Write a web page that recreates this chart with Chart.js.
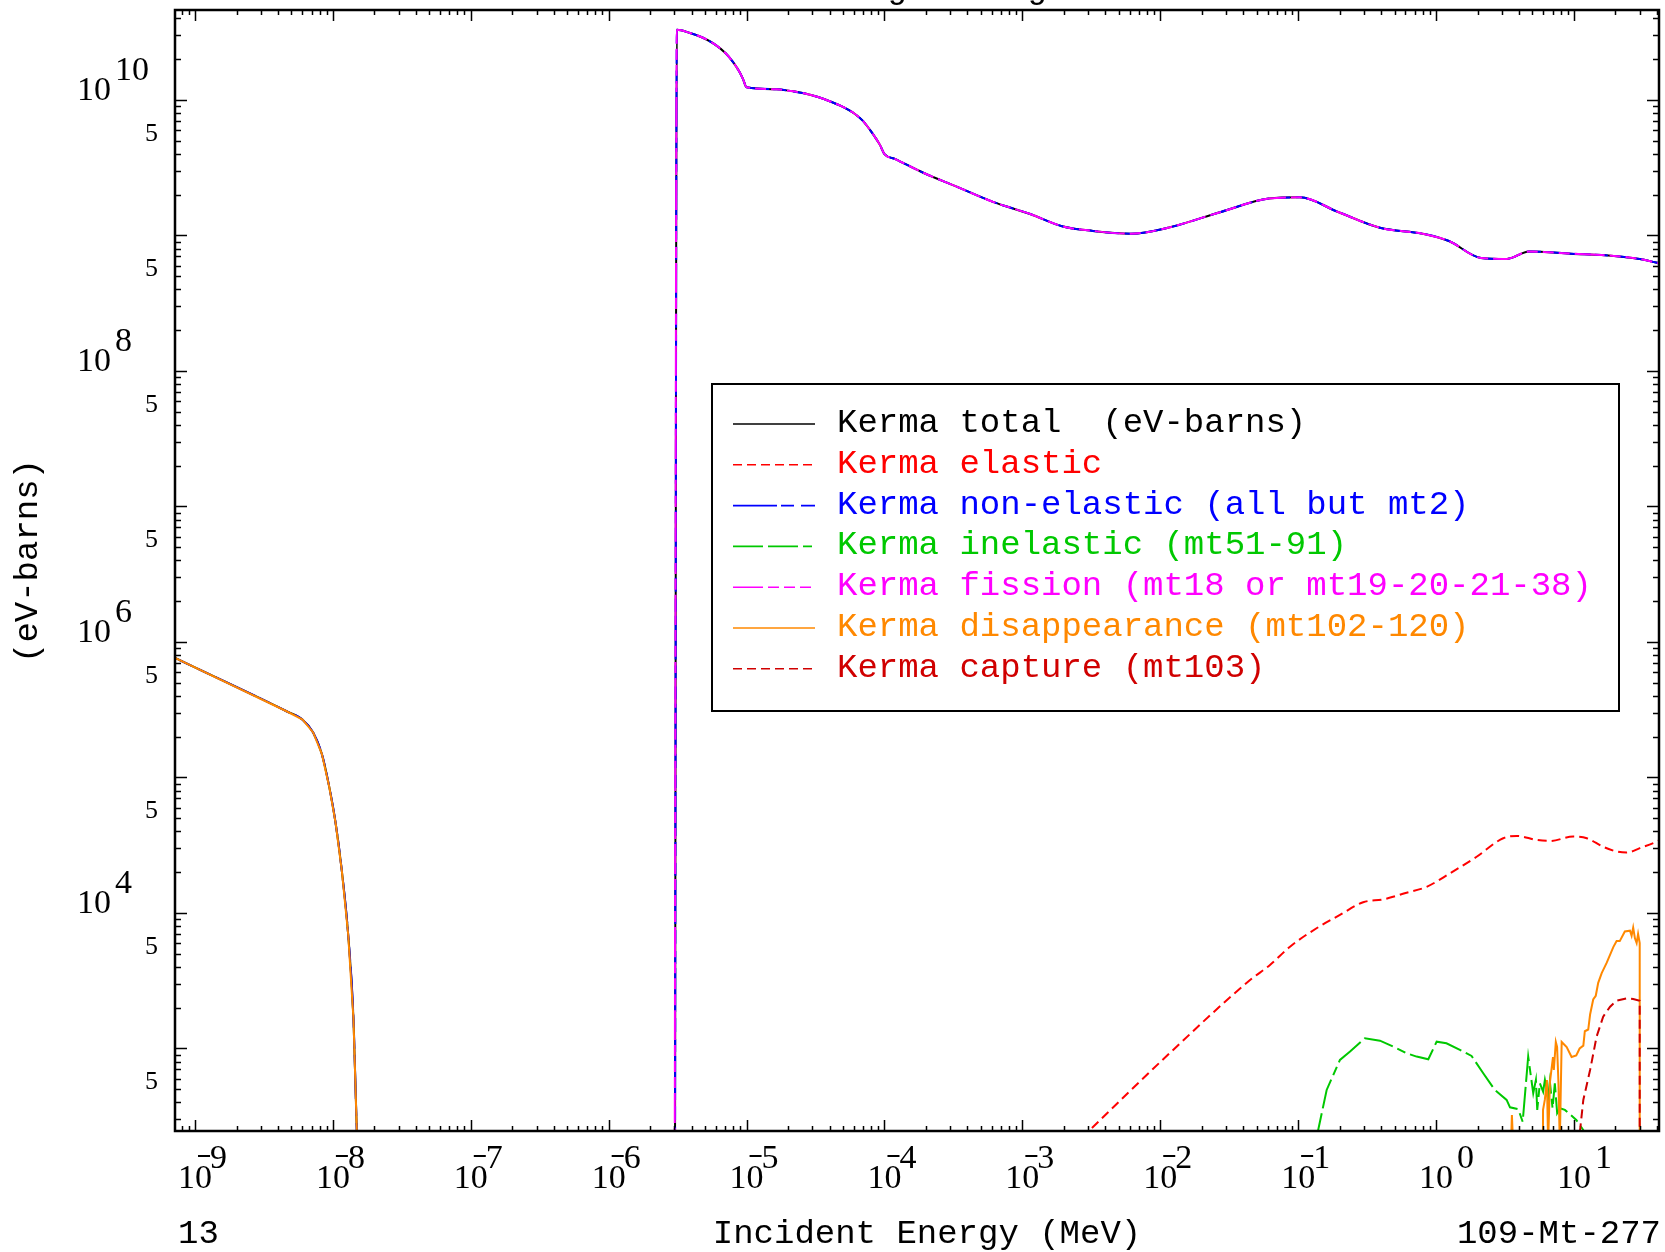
<!DOCTYPE html>
<html>
<head>
<meta charset="utf-8">
<script src="https://cdn.jsdelivr.net/npm/chart.js@4.4.0/dist/chart.umd.min.js"></script>
<style>
  html, body { margin: 0; padding: 0; background: #fff; }
  #wrap { width: 1665px; height: 1252px; position: relative; }
</style>
</head>
<body>
<div id="wrap"><canvas id="kermaChart"></canvas></div>
<script>
// energies in MeV, kerma in eV-barns

// below the fission threshold: total = non-elastic = disappearance
const lowE = [1e-10, 7.16e-10, 4.61e-9, 6.03e-9, 7.19e-9, 8.30e-9, 9.37e-9, 1.045e-8, 1.16e-8, 1.29e-8, 1.41e-8, 1.49e-8, 1.6e-8, 2e-8];
const lowV = [2.02e6, 7.62e5, 3.08e5, 2.67e5, 2.15e5, 1.50e5, 8.7e4, 4.65e4, 2.06e4, 6.97e3, 1.65e3, 250, 50, 1];

// above threshold: total = non-elastic = fission
const fisE = [2.99e-6, 3.12e-6, 3.89e-6, 4.74e-6, 5.81e-6, 7.05e-6, 7.96e-6, 8.85e-6, 9.41e-6, 1e-5,
  1.65e-5, 2.07e-5, 2.6e-5, 3.30e-5, 4.09e-5, 5.0e-5, 6.11e-5, 6.98e-5, 7.85e-5, 8.53e-5, 9.27e-5, 1e-4, 1.2e-4,
  1.93e-4, 3.24e-4, 6.12e-4, 1.14e-3, 1.94e-3, 3.25e-3, 6.12e-3, 1.14e-2, 2.75e-2, 6.14e-2, 0.103, 0.195, 0.392, 0.80,
  1.24, 2.12, 3.27, 4.72, 9.5, 19.5, 30, 45];
const fisV = [1, 3.29e10, 3.12e10, 2.90e10, 2.59e10, 2.21e10, 1.91e10, 1.62e10, 1.43e10, 1.24e10,
  1.20e10, 1.165e10, 1.12e10, 1.05e10, 9.7e9, 8.88e9, 7.88e9, 7.0e9, 6.01e9, 5.33e9, 4.66e9, 3.99e9, 3.66e9,
  2.89e9, 2.32e9, 1.77e9, 1.44e9, 1.17e9, 1.08e9, 1.03e9, 1.14e9, 1.49e9, 1.87e9, 1.91e9, 1.49e9, 1.14e9, 1.03e9,
  9.1e8, 6.82e8, 6.71e8, 7.61e8, 7.34e8, 7.06e8, 6.7e8, 6.1e8];

const elasE = [1e-3, 3.09e-3, 1.175e-2, 0.0448, 0.0625, 0.0873, 0.136, 0.201, 0.296, 0.414, 0.612, 0.855, 1.26, 1.97,
  3.07, 3.84, 5.37, 6.70, 9.89, 12.4, 16.3, 20.4, 24.1, 30.1, 39.7, 45];
const elasV = [80, 250, 927, 3.2e3, 4.13e3, 5.64e3, 7.71e3, 9.67e3, 1.20e4, 1.26e4, 1.41e4, 1.56e4, 1.96e4, 2.60e4,
  3.56e4, 3.70e4, 3.46e4, 3.40e4, 3.66e4, 3.56e4, 3.08e4, 2.84e4, 2.79e4, 3.01e4, 3.36e4, 3.6e4];

const inelE = [0.1, 0.161, 0.201, 0.238, 0.305, 0.392, 0.490, 0.612, 0.723, 0.879, 1.01, 1.19, 1.49, 1.81, 2.20, 2.67,
  3.25, 3.44, 3.95, 4.25, 4.66, 5.07, 5.30, 5.42, 5.66, 5.98, 6.16, 6.51, 6.69, 7.00, 7.27, 7.56, 7.91, 8.60, 10.4, 11.7, 13];
const inelV = [50, 494, 823, 948, 1190, 1142, 1032, 922, 871, 832, 1122, 1092, 975, 881, 656, 494,
  417, 368, 356, 288, 871, 467, 586, 352, 554, 480, 586, 441, 569, 362, 554, 333, 362, 352, 297, 250, 150];

// disappearance above 3 MeV (joined to the low-energy part)
const disE = [3.47, 3.55, 3.62, 5.96, 5.97, 6.15, 6.37, 6.5, 6.70, 7.05, 7.15, 7.39, 7.55, 7.72, 7.9, 8.15, 8.86, 9.62,
  10.4, 11.0, 11.7, 12.0, 12.7, 13.1, 13.8, 14.4, 15.0, 15.9, 17.3, 19.3, 20.4, 21.5, 23.4, 25.5, 26.2, 26.9, 27.7,
  28.5, 29.2, 30, 30];
const disV = [150, 323, 200, 200, 352, 417, 585, 200, 565, 865, 693, 1117, 1025, 565, 200, 1117, 1025, 865,
  890, 1000, 1050, 1340, 1380, 1780, 2300, 2450, 3050, 3600, 4300, 5600, 6200, 6200, 7300, 7400, 6800, 7800, 6500,
  6000, 7000, 6000, 1];

const capE = [10.5, 11.7, 13.1, 14.6, 16.3, 18.3, 20.4, 24.1, 26.9, 30, 30];
const capV = [150, 417, 693, 1222, 1718, 2035, 2253, 2345, 2317, 2253, 1];

const xDecades = [-10, -9, -8, -7, -6, -5, -4, -3, -2, -1, 0, 1];
const xLabelDecades = [-9, -8, -7, -6, -5, -4, -3, -2, -1, 0, 1];
const yDecades = [2, 3, 4, 5, 6, 7, 8, 9, 10];
const yLabelDecades = [4, 6, 8, 10];
const yFiveDecades = [2, 3, 4, 5, 6, 7, 8, 9];

const legendLabels = [
  'Kerma total  (eV-barns)',
  'Kerma elastic',
  'Kerma non-elastic (all but mt2)',
  'Kerma inelastic (mt51-91)',
  'Kerma fission (mt18 or mt19-20-21-38)',
  'Kerma disappearance (mt102-120)',
  'Kerma capture (mt103)'
];
const seriesColors = ['#000000', '#ff0000', '#0000ff', '#00c800', '#ff00ff', '#ff8800', '#d00000'];
const seriesDash = [[], [9, 5], [44, 4, 13, 7, 14, 6], [30, 5, 30, 5, 9, 5], [30, 5, 11, 5, 11, 5, 11, 5], [], [9, 5]];
const smoothSeries = [true, true, true, false, true, false, false];

function pts(es, vs) {
  return es.map((e, i) => ({ x: e, y: vs[i] }));
}

const seriesData = [
  pts(lowE.concat(fisE), lowV.concat(fisV)),
  pts(elasE, elasV),
  pts(lowE.concat(fisE), lowV.concat(fisV)),
  pts(inelE, inelV),
  pts(fisE, fisV),
  pts(lowE.concat(disE), lowV.concat(disV)),
  pts(capE, capV)
];

const MONO = '"Liberation Mono", "DejaVu Sans Mono", monospace';
const SERIF = '"Liberation Serif", "DejaVu Serif", serif';

// frame, inward ticks, tick labels, legend and the texts round the plot
const decorations = {
  id: 'decorations',
  afterDatasetsDraw(chart) {
    const { ctx, chartArea: a, scales: { x, y } } = chart;
    ctx.save();

    ctx.strokeStyle = '#000';
    ctx.lineWidth = 1.5;
    ctx.beginPath();
    xDecades.forEach(d => {
      for (let k = 1; k <= 9; k++) {
        const v = k * Math.pow(10, d);
        if (v < x.min || v > x.max) continue;
        const px = Math.round(x.getPixelForValue(v)) + 0.5;
        const len = k === 1 ? 11 : 5;
        ctx.moveTo(px, a.bottom); ctx.lineTo(px, a.bottom - len);
        ctx.moveTo(px, a.top); ctx.lineTo(px, a.top + len);
      }
    });
    yDecades.forEach(d => {
      for (let k = 1; k <= 9; k++) {
        const v = k * Math.pow(10, d);
        if (v < y.min || v > y.max) continue;
        const py = Math.round(y.getPixelForValue(v)) + 0.5;
        const len = k === 1 ? 12 : 6;
        ctx.moveTo(a.left, py); ctx.lineTo(a.left + len, py);
        ctx.moveTo(a.right, py); ctx.lineTo(a.right - len, py);
      }
    });
    ctx.stroke();

    ctx.lineWidth = 2.5;
    ctx.strokeRect(a.left, a.top, a.right - a.left, a.bottom - a.top);

    // x tick labels: 10 with raised exponent
    ctx.fillStyle = '#000';
    ctx.textBaseline = 'alphabetic';
    xLabelDecades.forEach(d => {
      const px = x.getPixelForValue(Math.pow(10, d));
      ctx.font = '34px ' + SERIF;
      ctx.textAlign = 'center';
      ctx.fillText('10', px, 1188);
      ctx.textAlign = 'left';
      if (d < 0) {
        ctx.fillRect(px + 3, 1155, 12, 2);
        ctx.fillText(String(-d), px + 15, 1168);
      } else {
        ctx.fillText(String(d), px + 21, 1168);
      }
    });

    // y tick labels
    yLabelDecades.forEach(d => {
      const py = y.getPixelForValue(Math.pow(10, d));
      ctx.font = '34px ' + SERIF;
      ctx.textAlign = 'right';
      ctx.fillText('10', 111, py);
      ctx.textAlign = 'left';
      ctx.fillText(String(d), 115, py - 20);
    });
    yFiveDecades.forEach(d => {
      const py = y.getPixelForValue(5 * Math.pow(10, d));
      ctx.font = '26px ' + SERIF;
      ctx.textAlign = 'left';
      ctx.fillText('5', 145, py);
    });

    // texts round the plot
    ctx.font = '34px ' + MONO;
    ctx.textAlign = 'left';
    if ('letterSpacing' in ctx) ctx.letterSpacing = '2.9px';
    ctx.fillText('Heating using Kerma', 747, -2);
    if ('letterSpacing' in ctx) ctx.letterSpacing = '0px';
    ctx.fillText('13', 178, 1243);
    ctx.textAlign = 'center';
    ctx.fillText('Incident Energy (MeV)', 927, 1243);
    ctx.textAlign = 'right';
    ctx.fillText('109-Mt-277', 1661, 1243);

    ctx.save();
    ctx.translate(28, 561);
    ctx.rotate(-Math.PI / 2);
    ctx.textAlign = 'center';
    ctx.textBaseline = 'middle';
    ctx.fillText('(eV-barns)', 0, 0);
    ctx.restore();

    // legend
    ctx.fillStyle = '#fff';
    ctx.fillRect(712, 384, 907, 327);
    ctx.strokeStyle = '#000';
    ctx.lineWidth = 2;
    ctx.strokeRect(712, 384, 907, 327);
    ctx.font = '34px ' + MONO;
    ctx.textAlign = 'left';
    ctx.textBaseline = 'alphabetic';
    legendLabels.forEach((label, i) => {
      const base = 432 + i * 40.8;
      ctx.strokeStyle = seriesColors[i];
      ctx.lineWidth = 1.6;
      ctx.setLineDash(seriesDash[i]);
      ctx.beginPath();
      ctx.moveTo(733, base - 8);
      ctx.lineTo(815, base - 8);
      ctx.stroke();
      ctx.setLineDash([]);
      ctx.fillStyle = seriesColors[i];
      ctx.fillText(label, 837, base);
    });

    ctx.restore();
  }
};

const ctx = document.getElementById('kermaChart').getContext('2d');
new Chart(ctx, {
  type: 'line',
  data: {
    datasets: legendLabels.map((label, i) => ({
      label: label,
      data: seriesData[i],
      borderColor: seriesColors[i],
      borderDash: seriesDash[i],
      borderWidth: 2,
      pointRadius: 0,
      fill: false,
      tension: 0,
      cubicInterpolationMode: smoothSeries[i] ? 'monotone' : 'default',
      order: 7 - i
    }))
  },
  options: {
    responsive: true,
    maintainAspectRatio: false,
    animation: false,
    devicePixelRatio: 1,
    layout: { padding: { left: 175, right: 6, top: 10, bottom: 121 } },
    plugins: { legend: { display: false }, title: { display: false }, tooltip: { enabled: false } },
    scales: {
      x: { type: 'logarithmic', display: false, bounds: 'data', min: 7.16e-10, max: 41.4 },
      y: { type: 'logarithmic', display: false, bounds: 'data', min: 246, max: 4.61e10 }
    }
  },
  plugins: [decorations]
});
</script>
</body>
</html>
